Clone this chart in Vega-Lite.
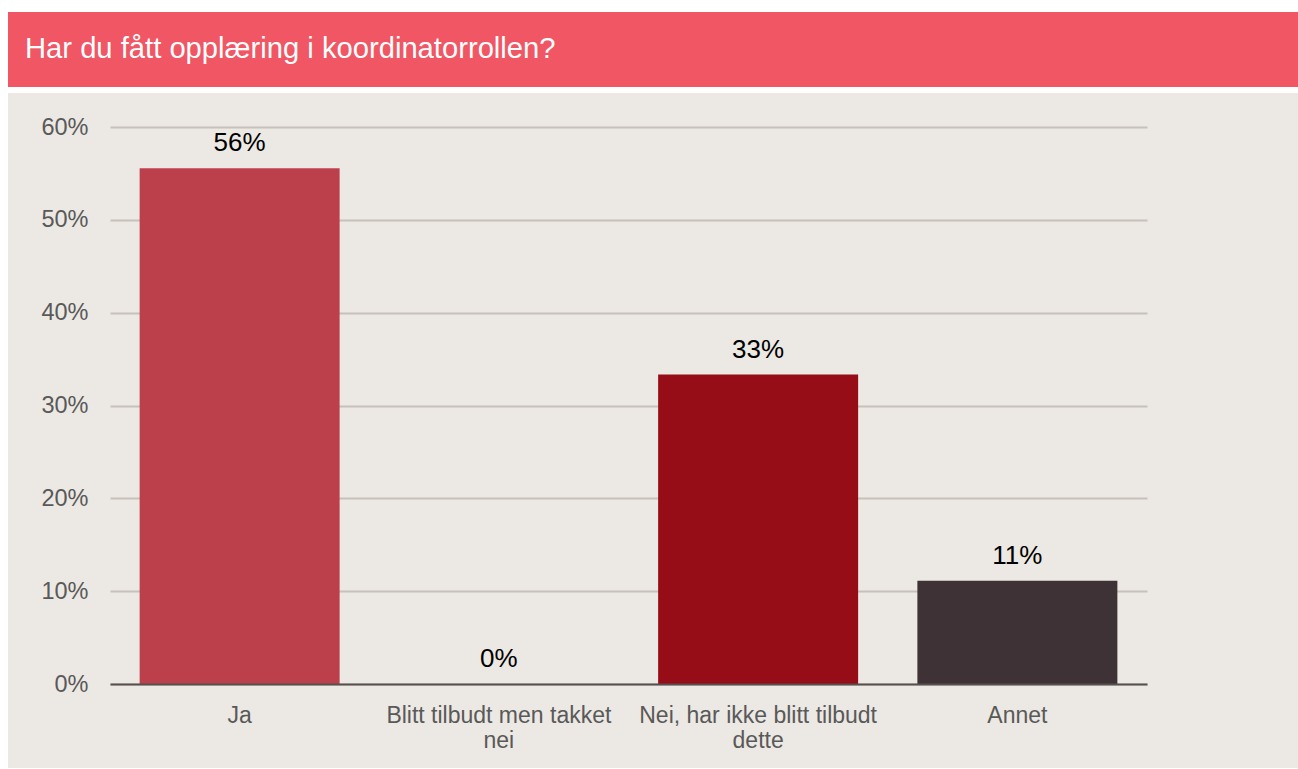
{
  "$schema": "https://vega.github.io/schema/vega-lite/v6.json",
  "background": "white",
  "padding": {"left": 8, "top": 12, "right": 0, "bottom": 1},
  "spacing": 6,
  "config": {"font": "Liberation Sans", "concat": {"spacing": 6}},
  "vconcat": [
    {
      "width": 1290,
      "height": 75,
      "view": {"fill": "#F05664", "stroke": null},
      "data": {"values": [{"heading": "Har du fått opplæring i koordinatorrollen?"}]},
      "mark": {"type": "text", "align": "left", "baseline": "alphabetic", "fontSize": 29.2, "color": "white", "font": "Liberation Sans"},
      "encoding": {
        "text": {"field": "heading"},
        "x": {"value": 17},
        "y": {"value": 45.5}
      }
    },
    {
      "width": 1290,
      "height": 675,
      "view": {"fill": "#ECE8E3", "stroke": null},
      "data": {
        "values": [
          {"svar": "Ja", "andel": 0.5556},
          {"svar": "Blitt tilbudt men takket nei", "andel": 0},
          {"svar": "Nei, har ikke blitt tilbudt dette", "andel": 0.3333},
          {"svar": "Annet", "andel": 0.1111}
        ]
      },
      "encoding": {
        "x": {
          "field": "svar",
          "type": "nominal",
          "sort": null,
          "scale": {"range": [102, 1139], "paddingInner": 0.2286, "paddingOuter": 0.1143},
          "axis": {
            "orient": "bottom",
            "offset": -84,
            "title": null,
            "labelAngle": 0,
            "ticks": false,
            "tickSize": 0,
            "domainColor": "#575050",
            "domainWidth": 2,
            "labelPadding": 20,
            "labelFontSize": 23,
            "labelColor": "#595959",
            "labelLineHeight": 25,
            "labelLimit": 400,
            "labelOverlap": false,
            "labelBound": false,
            "zindex": 1,
            "grid": false,
            "labelExpr": "datum.label == 'Blitt tilbudt men takket nei' ? ['Blitt tilbudt men takket', 'nei'] : datum.label == 'Nei, har ikke blitt tilbudt dette' ? ['Nei, har ikke blitt tilbudt', 'dette'] : datum.label"
          }
        },
        "y": {
          "field": "andel",
          "type": "quantitative",
          "scale": {"domain": [0, 0.6], "range": [591, 34], "nice": false},
          "axis": {
            "orient": "left",
            "offset": -102,
            "title": null,
            "format": ".0%",
            "values": [0, 0.1, 0.2, 0.3, 0.4, 0.5, 0.6],
            "domain": false,
            "ticks": false,
            "tickSize": 0,
            "labelPadding": 22,
            "labelFontSize": 23.5,
            "labelColor": "#595959",
            "grid": true,
            "gridColor": "#C8C0BA",
            "gridWidth": 2
          }
        }
      },
      "layer": [
        {
          "mark": {"type": "bar"},
          "encoding": {
            "color": {
              "field": "svar",
              "type": "nominal",
              "sort": null,
              "scale": {
                "domain": ["Ja", "Blitt tilbudt men takket nei", "Nei, har ikke blitt tilbudt dette", "Annet"],
                "range": ["#BC404B", "#BC404B", "#960D18", "#3E3236"]
              },
              "legend": null
            }
          }
        },
        {
          "mark": {"type": "text", "baseline": "alphabetic", "dy": -17, "fontSize": 26, "color": "black"},
          "encoding": {
            "text": {"field": "andel", "type": "quantitative", "format": ".0%"}
          }
        }
      ]
    }
  ]
}
